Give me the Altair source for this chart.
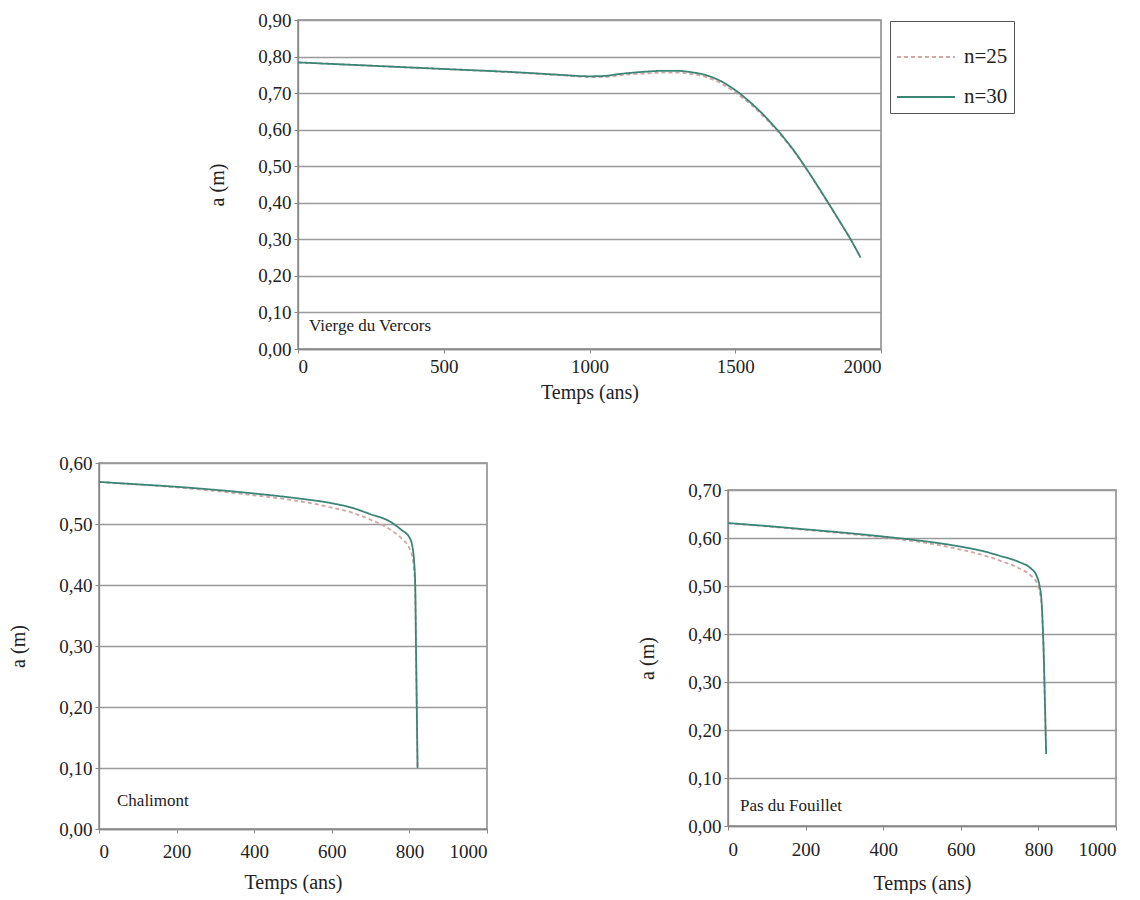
import altair as alt
import pandas as pd

# ---------------- data ----------------
series_names = ["n=25", "n=30"]
panel_labels = ["Vierge du Vercors", "Chalimont", "Pas du Fouillet"]

# Vierge du Vercors
v_x30 = [0, 250, 500, 750, 900, 1000, 1050, 1100, 1150, 1200, 1250, 1300, 1350, 1400,
         1450, 1500, 1550, 1600, 1650, 1700, 1750, 1800, 1850, 1900, 1930]
v_y30 = [0.784, 0.775, 0.766, 0.757, 0.750, 0.746, 0.747, 0.752, 0.756, 0.759, 0.761, 0.761,
         0.757, 0.749, 0.733, 0.708, 0.676, 0.638, 0.594, 0.544, 0.486, 0.424, 0.360, 0.294, 0.250]
v_x25 = [0, 250, 500, 750, 900, 1000, 1050, 1100, 1150, 1200, 1250, 1300, 1350, 1400,
         1450, 1500, 1550, 1600, 1650, 1700, 1750, 1800, 1850, 1900, 1930]
v_y25 = [0.784, 0.775, 0.766, 0.756, 0.749, 0.744, 0.744, 0.748, 0.752, 0.754, 0.756, 0.756,
         0.752, 0.744, 0.727, 0.702, 0.671, 0.634, 0.591, 0.542, 0.485, 0.423, 0.359, 0.294, 0.250]

# Chalimont
c_x30 = [0, 100, 200, 300, 400, 500, 600, 650, 700, 750, 780, 800, 808, 812, 815, 817, 819, 821]
c_y30 = [0.569, 0.565, 0.561, 0.556, 0.550, 0.543, 0.534, 0.527, 0.516, 0.504, 0.490, 0.478,
         0.462, 0.440, 0.400, 0.300, 0.200, 0.100]
c_x25 = [0, 200, 400, 500, 600, 650, 700, 750, 780, 800, 808, 812, 815, 817, 819, 821]
c_y25 = [0.569, 0.560, 0.547, 0.539, 0.527, 0.519, 0.507, 0.491, 0.476, 0.460, 0.445, 0.425,
         0.390, 0.300, 0.200, 0.100]

# Pas du Fouillet
p_x30 = [0, 100, 200, 300, 400, 500, 600, 650, 700, 750, 780, 795, 803, 808, 811, 814, 817, 820]
p_y30 = [0.631, 0.625, 0.618, 0.611, 0.603, 0.594, 0.582, 0.574, 0.563, 0.550, 0.537, 0.522,
         0.500, 0.470, 0.420, 0.350, 0.250, 0.150]
p_x25 = [0, 200, 400, 500, 600, 650, 700, 750, 780, 795, 803, 808, 811, 814, 817, 820]
p_y25 = [0.631, 0.617, 0.601, 0.591, 0.576, 0.566, 0.553, 0.537, 0.522, 0.508, 0.488, 0.462,
         0.420, 0.350, 0.250, 0.150]

# ---------------- styling ----------------
FONT = "Liberation Serif, Times New Roman, serif"
COL30 = "#3b8576"
COL25 = "#d4a5a5"
LABEL_EXPR = "replace(format(datum.value, '.2f'), '.', ',')"


def make_df(x25, y25, x30, y30):
    d25 = pd.DataFrame({"t": x25, "a": y25, "serie": series_names[0]})
    d30 = pd.DataFrame({"t": x30, "a": y30, "serie": series_names[1]})
    return pd.concat([d25, d30], ignore_index=True)


def panel(df, label, xmax, xstep, ymax, w, h, lab_dx, lab_dy, xlab_pad, xtitle_pad):
    yvals = [round(i * 0.1, 2) for i in range(int(round(ymax * 10)) + 1)]
    xvals = list(range(0, xmax + 1, xstep))
    lines = alt.Chart(df).mark_line(interpolate="monotone", strokeWidth=1.8).encode(
        x=alt.X("t:Q", title="Temps (ans)",
                scale=alt.Scale(domain=[0, xmax], nice=False),
                axis=alt.Axis(values=xvals, grid=False, labelPadding=xlab_pad,
                              titlePadding=xtitle_pad, format="d")),
        y=alt.Y("a:Q", title="a (m)",
                scale=alt.Scale(domain=[0, ymax], nice=False),
                axis=alt.Axis(values=yvals, grid=True, labelExpr=LABEL_EXPR,
                              labelPadding=3, titlePadding=30)),
        color=alt.Color("serie:N", scale=alt.Scale(domain=series_names, range=[COL25, COL30]),
                        legend=alt.Legend(title=None)),
        strokeDash=alt.StrokeDash("serie:N",
                                  scale=alt.Scale(domain=series_names, range=[[4, 3], [1, 0]]),
                                  legend=alt.Legend(title=None)),
        order=alt.Order("serie:N", sort="ascending"),
    )
    txt = alt.Chart(pd.DataFrame({"lab": [label]})).mark_text(
        align="left", baseline="middle", font=FONT, fontSize=17, color="#222"
    ).encode(x=alt.value(lab_dx), y=alt.value(h - lab_dy), text="lab:N")
    return alt.layer(lines, txt).properties(width=w, height=h)


def blank(w, h):
    return alt.Chart(pd.DataFrame({"s": [0]})).mark_point(opacity=0).encode(
        x=alt.X("s:Q", axis=None), y=alt.Y("s:Q", axis=None)
    ).properties(width=w, height=h, view=alt.ViewBackground(strokeOpacity=0))


top = panel(make_df(v_x25, v_y25, v_x30, v_y30), panel_labels[0], 2000, 500, 0.9,
            583, 329, 11, 23, 4, 6)
left = panel(make_df(c_x25, c_y25, c_x30, c_y30), panel_labels[1], 1000, 200, 0.6,
             388, 366, 18, 28, 9, 11)
right = panel(make_df(p_x25, p_y25, p_x30, p_y30), panel_labels[2], 1000, 200, 0.7,
              388, 336, 12, 20, 10, 14)

row1 = alt.hconcat(blank(88, 1), top, spacing=20).resolve_scale(x="independent", y="independent")
right_col = alt.vconcat(blank(1, 1), right, spacing=13).resolve_scale(
    x="independent", y="independent")
row2 = alt.hconcat(left, right_col, spacing=148).resolve_scale(x="independent", y="independent")

chart = alt.vconcat(row1, row2, spacing=50).resolve_scale(
    x="independent", y="independent"
).properties(
    padding={"left": 0, "top": 2, "right": 0, "bottom": 0}
).configure(background="white").configure_axis(
    labelFont=FONT, titleFont=FONT, labelFontSize=19, titleFontSize=20,
    labelColor="#222", titleColor="#222", titleFontWeight="normal",
    domainColor="#888", tickColor="#888", gridColor="#9a9a9a", gridWidth=1.3,
    domainWidth=1.3, tickSize=4,
).configure_view(stroke="#888", strokeWidth=1.5).configure_legend(
    orient="none", legendX=791, legendY=1, strokeColor="#555", padding=6,
    labelFont=FONT, labelFontSize=21, labelColor="#222", symbolType="stroke",
    symbolSize=3364, symbolStrokeWidth=1.8, labelOffset=8, rowPadding=0,
)

chart.save("out.html", embed_options={"renderer": "svg", "actions": False})
